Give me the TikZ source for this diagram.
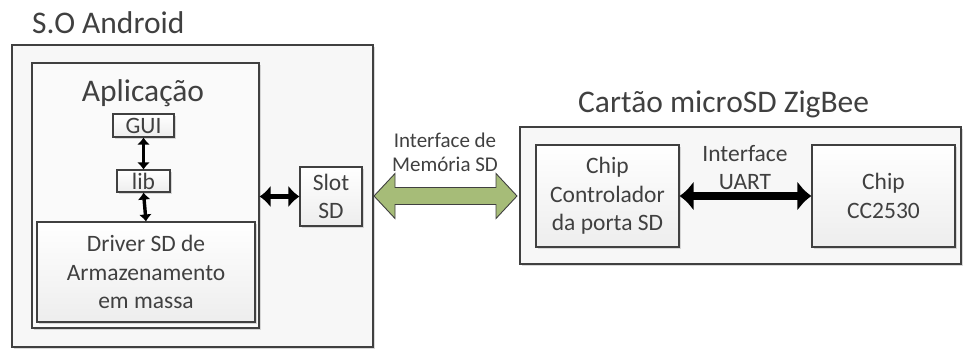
\documentclass[tikz,border=0pt]{standalone}
\usepackage{fontspec}
\setmainfont{Carlito}
\usetikzlibrary{arrows.meta,shadows,calc}

\definecolor{memgreen}{RGB}{166,188,120}
\definecolor{inkgray}{RGB}{64,64,64}

\begin{document}
\begin{tikzpicture}[x=1pt, y=1pt,
    frame/.style={draw=inkgray, line width=1.1pt, fill=black!3, inner sep=0pt,
        drop shadow={shadow xshift=2pt, shadow yshift=-2pt, fill=black!25, opacity=0.6}},
    box/.style={draw=inkgray, line width=1.1pt, top color=white, bottom color=black!7,
        inner sep=0pt, align=center, text=inkgray, font=\fontsize{23.5}{28.5}\selectfont,
        drop shadow={shadow xshift=2pt, shadow yshift=-2pt, fill=black!25, opacity=0.6}},
    title/.style={text=inkgray, font=\fontsize{31.5}{38}\selectfont, inner sep=0pt},
    label/.style={text=inkgray, align=center, inner sep=0pt},
    thinlink/.style={line width=3.4pt, {Latex[length=7pt,width=13pt]}-{Latex[length=7pt,width=13pt]}},
    midlink/.style={line width=5.5pt, {Latex[length=11pt,width=22pt]}-{Latex[length=11pt,width=22pt]}},
    widelink/.style={line width=8.5pt, {Latex[length=14pt,width=30pt]}-{Latex[length=14pt,width=30pt]}},
    memarrow/.style={draw=inkgray, line width=0.9pt, fill=memgreen, line join=miter}]

    \useasboundingbox (0,0) rectangle (963,349);

    % S.O Android side
    \node[frame, minimum width=361, minimum height=302] (android) at (192.5,153) {};
    \node[title, anchor=base west] (androidtitle) at (32,316) {S.O Android};

    \node[frame, fill=black!2, minimum width=227, minimum height=265] (app) at (145.5,153.5) {};
    \node[title, anchor=base] (apptitle) at (143,248) {Aplicação};
    \node[box, minimum width=61, minimum height=23] (gui) at (143.5,223.5) {GUI};
    \node[box, minimum width=53, minimum height=22] (lib) at (143.5,168) {lib};
    \node[box, minimum width=218, minimum height=100] (driver) at (146,77) {Driver SD de\\Armazenamento\\em massa};

    \node[box, minimum width=62, minimum height=59] (slot) at (331,152.5) {Slot\\SD};

    % Arrows inside the phone
    \draw[thinlink] (gui.south) -- (lib.north);
    \draw[thinlink] (lib.south) -- (driver.north);
    \draw[midlink] (app.east |- slot.west) -- (slot.west);

    % SD memory interface
    \coordinate (memL) at (374,153);
    \coordinate (memR) at (517,153);
    \draw[memarrow] (memL) -- ++(21,22.5) -- ++(0,-14) -- ($(memR)+(-21,8.5)$) -- ++(0,14)
        -- (memR) -- ++(-21,-22.5) -- ++(0,14) -- ($(memL)+(21,-8.5)$) -- ++(0,-14) -- cycle;
    \node[label, font=\fontsize{21}{24}\selectfont] (memlabel) at (445,197) {Interface de\\Memória SD};

    % Cartao microSD ZigBee side
    \node[frame, minimum width=441, minimum height=137] (zigbee) at (740.5,153.5) {};
    \node[title, anchor=base west] (zigbeetitle) at (578,237) {Cartão microSD ZigBee};

    \node[box, minimum width=143, minimum height=102] (ctrl) at (607.5,153) {Chip\\Controlador\\da porta SD};
    \node[box, minimum width=143, minimum height=102] (cc) at (883.5,153) {Chip\\CC2530};

    \draw[widelink] (ctrl.east) -- (cc.west);
    \node[label, font=\fontsize{23.5}{28.5}\selectfont] (uartlabel) at (745,181.5) {Interface\\UART};
\end{tikzpicture}
\end{document}
